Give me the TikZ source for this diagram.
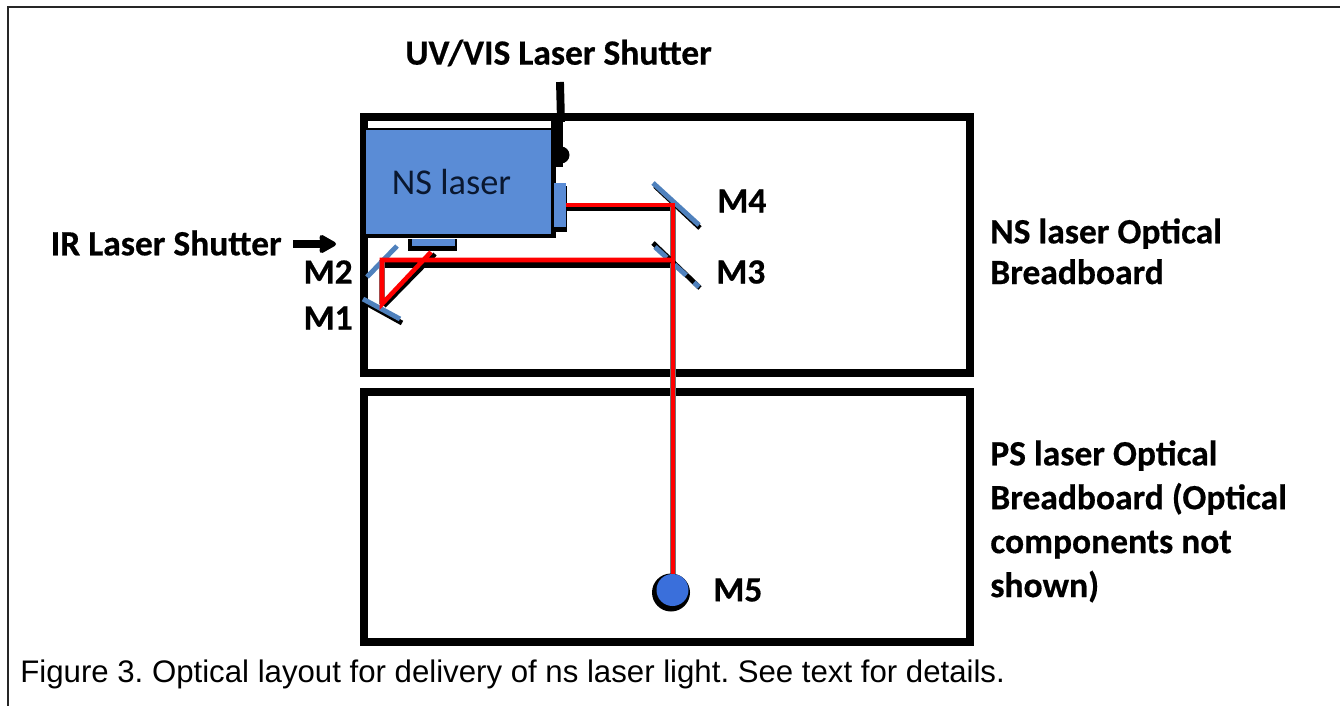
\documentclass[tikz,border=0pt]{standalone}
\usepackage{xcolor}
\usepackage{fontspec}
\setmainfont{Carlito}
\newfontfamily\capfont{Liberation Sans}
\newfontfamily\lblfont[FakeBold=0.5]{Carlito Bold}
\usepackage{tikz}
\usetikzlibrary{positioning,arrows.meta}
\definecolor{laserblue}{HTML}{5A8CD6}
\definecolor{mirrorblue}{HTML}{4F81BD}
\definecolor{ballblue}{HTML}{3A6FDB}
\definecolor{textnavy}{HTML}{0A1830}

\begin{document}
\begin{tikzpicture}[
  x=0.02cm, y=-0.02cm,
  board/.style={draw=black, line width=4.5pt},
  frameln/.style={draw=black!85, line width=1.1pt},
  lbl/.style={font=\lblfont\fontsize{20.2}{22}\selectfont, inner sep=0pt, text=black},
  sidelbl/.style={inner sep=0pt, text=black, anchor=north west, align=left},
  laser/.style={fill=laserblue, minimum width=3.7cm, minimum height=2.08cm, inner sep=0pt,
                font=\fontsize{20.7}{24}\selectfont, text=textnavy},
  port/.style={fill=laserblue, inner sep=0pt},
  portsh/.style={fill=black, inner sep=0pt},
  mirror/.style={draw=mirrorblue, line width=2.8pt},
  mirrorsh/.style={draw=black, line width=2.8pt},
  beam/.style={draw=red, line width=2.6pt, line join=miter},
  beamsh/.style={draw=black, line width=3.4pt},
  beamedge/.style={draw=black!55, line width=3.4pt},
  shut/.style={draw=black, line width=4.5pt},
  shutarr/.style={-{Stealth[length=11pt,width=12pt,inset=1pt,round]}, draw=black, line width=4pt},
]
\useasboundingbox (0,0) rectangle (1340,706);

% outer frame
\draw[frameln] (8,706) -- (8,7) -- (1340,7);

% breadboards
\draw[board] (364,117) rectangle (970,373);
\draw[board] (364,392) rectangle (970,642);

% laser body
\fill[black] (366,128) rectangle (556,238);
\node[laser] (ns) at (458.5,182) {\hspace*{-0.28cm}NS laser};

% shutters
\draw[shut] (560,82) -- (561,122);
\draw[shut, line width=6.8pt] (557,120) -- (557,167);
\fill[black] (561,155) circle (8.5);
\coordinate (irend) at (336,244);

% ports
\node[portsh, minimum width=0.98cm, minimum height=0.24cm] (pbs) at (432.5,245) {};
\node[port, minimum width=0.86cm, minimum height=0.13cm] (pb) at (433.5,242.5) {};
\node[portsh, minimum width=0.28cm, minimum height=0.92cm] (prs) at (560,209) {};
\node[port, minimum width=0.24cm, minimum height=0.88cm] (pr) at (560,205) {};

% beam shadows
\coordinate (m1c) at (382,304);
\coordinate (m2c) at (382,260);
\coordinate (m3c) at (673,260);
\coordinate (m4c) at (673,205);
\coordinate (m5c) at (673,590);
\coordinate (pbo) at (431,252);
\draw[beamsh, line width=2.8pt] (566,209) -- (673,209);
\draw[beamsh] (382,265) -- (673,265);
\draw[beamsh, line width=2.6pt] (384,306) -- (435,254);
\draw[beamedge] (m4c) -- (m5c);
\draw[beamedge, line width=3pt] (m2c) -- (m1c);

% mirrors
\draw[mirrorsh] (655,186) -- (700,228);
\draw[mirror] (653,183) -- (699,225);
\draw[mirrorsh] (653,243) -- (700,288);
\draw[mirror, dash pattern=on 9pt off 6pt] (655,247) -- (699,287);
\draw[mirror] (397,246) -- (367,277);
\draw[mirrorsh] (364,302) -- (402,323);
\draw[mirror] (363,299) -- (400,319);

% M5
\fill[black] (671,592.5) circle (19);

% beams
\draw[beam] (pr.east) -- (m4c) -- (m5c);
\draw[beam] (m3c) -- (m2c) -- (m1c) -- (pbo);

\fill[ballblue] (672.5,590) circle (16);

% labels
\node[lbl, anchor=west] (uv) at (405,53) {UV/VIS Laser Shutter};
\node[lbl, anchor=east] (ir) at (282,243) {IR Laser Shutter};
\draw[shutarr] (ir.east) ++(11,1) -- (irend);
\node[lbl, anchor=west] (l4) at (717,201) {M4};
\node[lbl, anchor=west] (l3) at (716,272) {M3};
\node[lbl, anchor=east] (l2) at (353,272) {M2};
\node[lbl, anchor=east] (l1) at (353,318) {M1};
\node[lbl, anchor=west] (l5) at (713,590) {M5};
\node[sidelbl, font=\lblfont\fontsize{20.2}{23.2}\selectfont] (nsb) at (990,218) {NS laser Optical\\Breadboard};
\node[sidelbl, font=\lblfont\fontsize{20.2}{25}\selectfont] (psb) at (990,440) {PS laser Optical\\Breadboard (Optical\\components not\\shown)};

% caption
\node[anchor=base west, inner sep=0pt, font=\capfont\fontsize{17.75}{20}\selectfont] (cap) at (20,682)
  {\frenchspacing Figure 3. Optical layout for delivery of ns laser light. See text for details.};
\end{tikzpicture}
\end{document}
